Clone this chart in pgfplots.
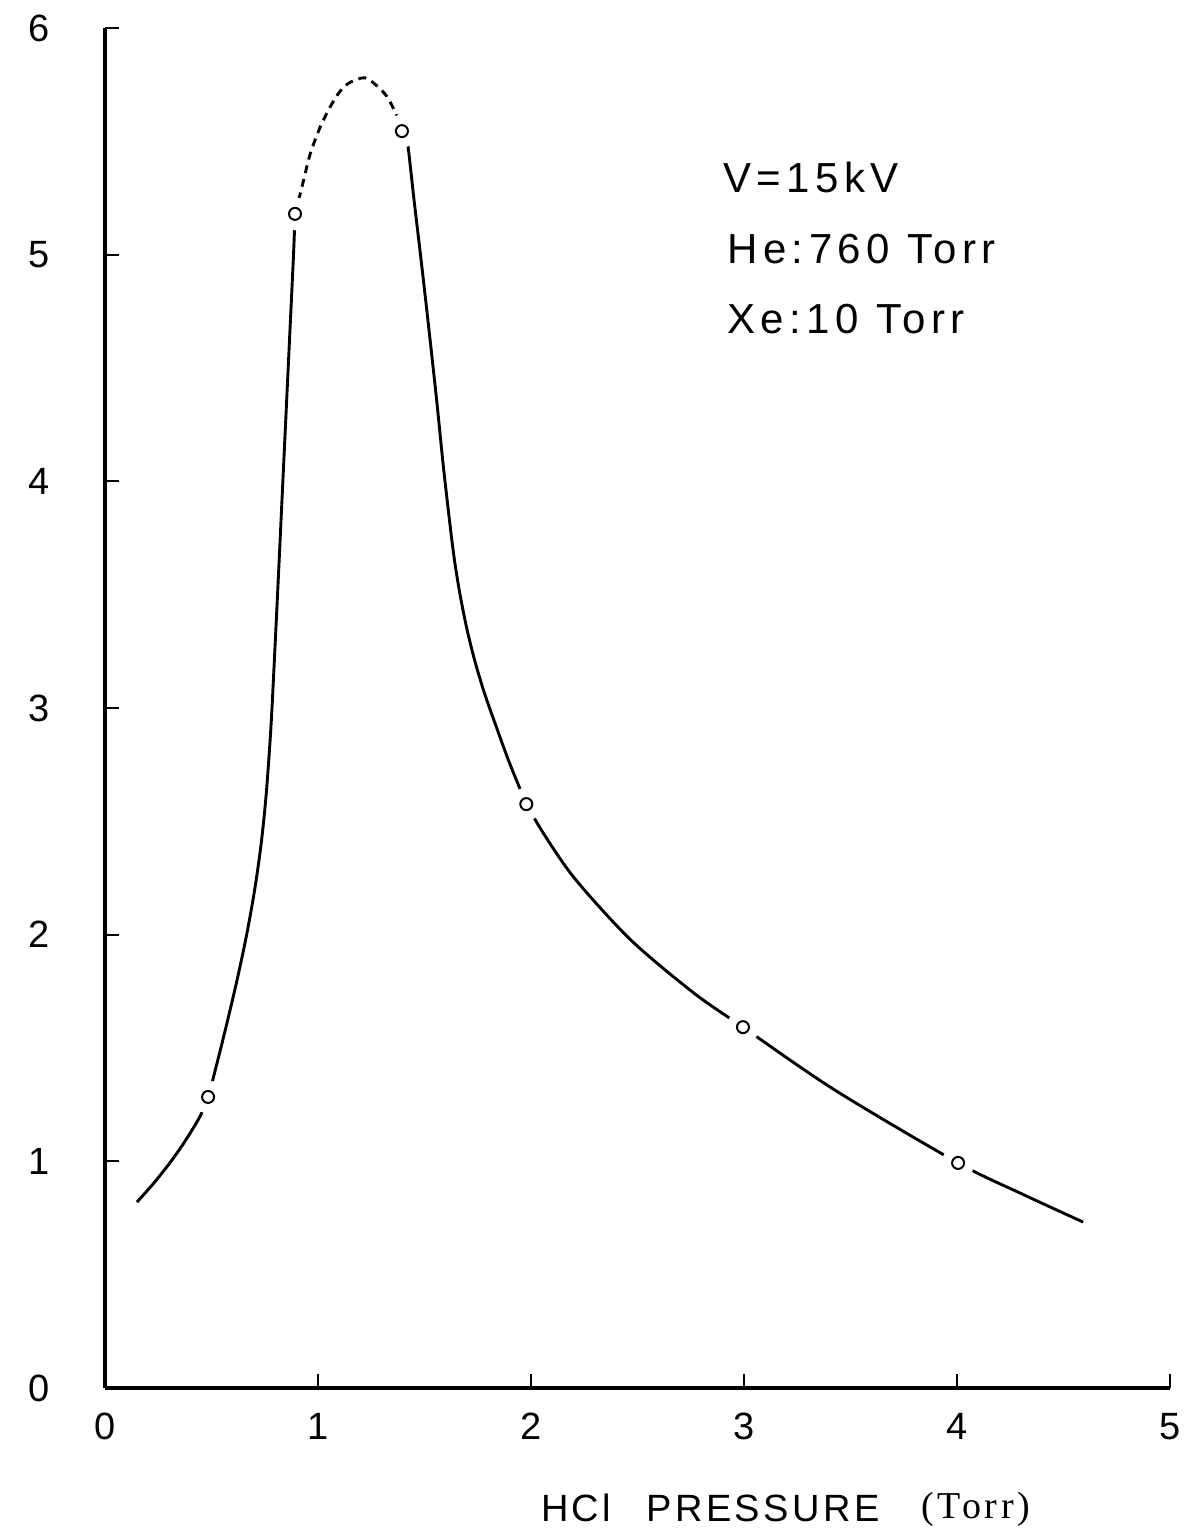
\documentclass[border=0pt]{standalone}
\usepackage{pgfplots}
\pgfplotsset{compat=1.18}
\usepackage{fontspec}
\setmainfont{Liberation Sans}
\newfontfamily\spaced[LetterSpace=13]{Liberation Sans}
\newfontfamily\spacedlab[LetterSpace=9]{Liberation Sans}
\newfontfamily\serifT[LetterSpace=10]{Liberation Serif}
\newcommand{\tl}[1]{{\fontsize{19}{22}\selectfont #1}}
\begin{document}
\begin{tikzpicture}
\begin{axis}[
  name=ax,
  x=106.5pt, y=113.33pt,
  xmin=0, xmax=5, ymin=0, ymax=6,
  axis lines=left,
  axis line style={line width=1.7pt, -},
  xtick={0,1,2,3,4,5}, ytick={0,1,2,3,4,5,6},
  xticklabels={\tl{0},\tl{1},\tl{2},\tl{3},\tl{4},\tl{5}},
  yticklabels={\tl{0},\tl{1},\tl{2},\tl{3},\tl{4},\tl{5},\tl{6}},
  tick align=inside,
  major tick length=7pt,
  tick style={line width=1pt, black},
  xticklabel style={yshift=-9pt},
  yticklabel style={xshift=-24pt},
  clip=false,
]
% left branch (solid)
\addplot[black, line width=1.45pt, smooth] coordinates {
(0.150,0.82) (0.230,0.905) (0.310,1.00) (0.380,1.095) (0.447,1.20)
(0.484,1.284) (0.517,1.40) (0.570,1.60) (0.620,1.80) (0.665,2.00)
(0.703,2.20) (0.733,2.40) (0.755,2.60) (0.771,2.80) (0.784,3.00)
(0.810,3.50) (0.835,4.00) (0.860,4.50) (0.885,5.00) (0.892,5.18)
};
% peak (dashed)
\addplot[black, line width=1.45pt, smooth, dash pattern=on 4pt off 3pt] coordinates {
(0.892,5.18) (0.925,5.30) (0.962,5.44) (1.009,5.56) (1.056,5.65)
(1.103,5.72) (1.150,5.76) (1.221,5.78) (1.282,5.74) (1.329,5.69)
(1.376,5.60) (1.394,5.545)
};
% right branch (solid)
\addplot[black, line width=1.45pt, smooth] coordinates {
(1.400,5.60) (1.423,5.474) (1.451,5.240) (1.484,4.976) (1.516,4.711)
(1.557,4.358) (1.588,4.070) (1.623,3.782) (1.643,3.637) (1.668,3.494)
(1.699,3.349) (1.737,3.205) (1.783,3.061) (1.837,2.917) (1.893,2.772)
(1.945,2.651) (1.978,2.576) (2.070,2.430) (2.211,2.241) (2.469,1.976)
(2.765,1.742) (2.995,1.592) (3.427,1.314) (4.005,0.993) (4.296,0.860)
(4.592,0.732)
};
% gaps around the measured points
\addplot[only marks, mark=*, mark size=8pt, mark options={fill=white, draw=white}] coordinates {
(0.484,1.284) (0.892,5.18) (1.394,5.545) (1.978,2.576) (2.995,1.592) (4.005,0.993)
};
% measured points
\addplot[only marks, mark=o, mark size=3pt, mark options={line width=1pt, draw=black}] coordinates {
(0.484,1.284) (0.892,5.18) (1.394,5.545) (1.978,2.576) (2.995,1.592) (4.005,0.993)
};
\node[anchor=base west, inner sep=0pt, font=\fontsize{21}{24}\spaced] at (axis cs:2.90,5.276) {V=15kV};
\node[anchor=base west, inner sep=0pt, font=\fontsize{21}{24}\spaced] at (axis cs:2.92,4.963) {He:760 Torr};
\node[anchor=base west, inner sep=0pt, font=\fontsize{21}{24}\spaced] at (axis cs:2.92,4.654) {Xe:10 Torr};
\node[anchor=base west, inner sep=0pt, font=\fontsize{19}{22}\spacedlab] at (axis cs:2.045,-0.591) {HCl};
\node[anchor=base west, inner sep=0pt, font=\fontsize{19}{22}\spacedlab] at (axis cs:2.54,-0.591) {PRESSURE};
\node[anchor=base west, inner sep=0pt, font=\fontsize{19}{22}\serifT] at (axis cs:3.83,-0.575) {(Torr)};
\end{axis}
\pgfresetboundingbox
\path ([xshift=-52.5pt,yshift=-72pt]ax.south west) rectangle ([xshift=16pt,yshift=14pt]ax.north east);
\end{tikzpicture}
\end{document}
